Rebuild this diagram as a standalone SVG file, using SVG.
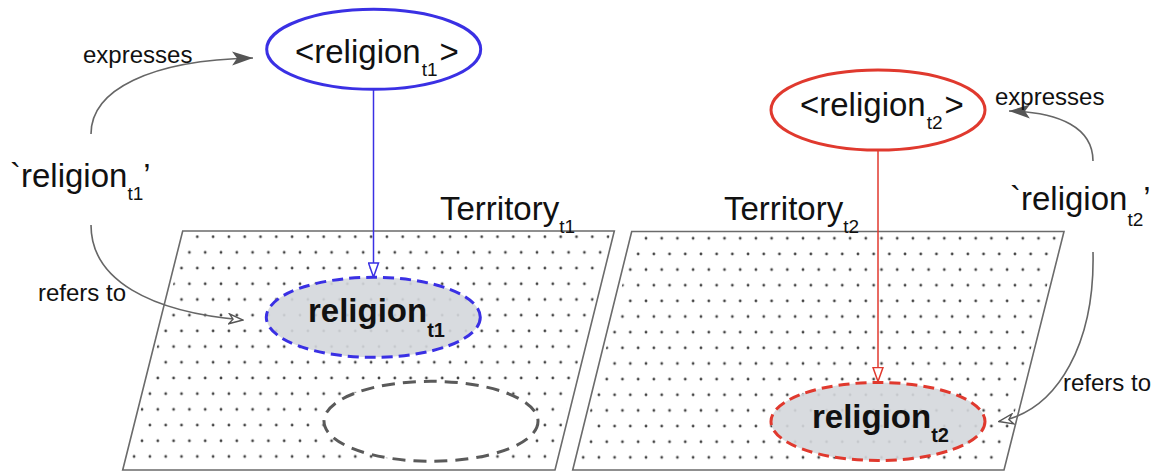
<svg xmlns="http://www.w3.org/2000/svg" width="1158" height="472" viewBox="0 0 1158 472">
<style>
.big{font-family:"Liberation Sans",Arial,sans-serif;font-size:33px;fill:#111}
.bold{font-family:"Liberation Sans",Arial,sans-serif;font-size:33px;font-weight:bold;fill:#111}
.lbl{font-family:"Liberation Sans",Arial,sans-serif;font-size:24px;fill:#111}
.sub{font-size:19px}
.bsub{font-size:20px}
.terr{stroke:#6b6b6b;stroke-width:1.6}
.conn{fill:none;stroke:#666;stroke-width:1.6}
.d{fill:#444}
</style>
<defs>
<pattern id="dots1" patternUnits="userSpaceOnUse" x="197.3" y="236.7" width="15.8" height="31.4">
<circle class="d" cx="0" cy="0" r="1.4"/><circle class="d" cx="15.8" cy="0" r="1.4"/><circle class="d" cx="0" cy="31.4" r="1.4"/><circle class="d" cx="15.8" cy="31.4" r="1.4"/>
<circle class="d" cx="7.9" cy="15.7" r="1.4"/>
</pattern>
<pattern id="dots2" patternUnits="userSpaceOnUse" x="646" y="238.3" width="15.7" height="31.3">
<circle class="d" cx="0" cy="0" r="1.4"/><circle class="d" cx="15.7" cy="0" r="1.4"/><circle class="d" cx="0" cy="31.3" r="1.4"/><circle class="d" cx="15.7" cy="31.3" r="1.4"/>
<circle class="d" cx="7.85" cy="15.65" r="1.4"/>
</pattern>
<marker id="openBlue" viewBox="0 0 16 12" refX="15" refY="6" markerWidth="16" markerHeight="12" markerUnits="userSpaceOnUse" orient="auto">
<path d="M1,1 L15,6 L1,11 Z" fill="#fff" stroke="#3a30e4" stroke-width="1.5"/>
</marker>
<marker id="openRed" viewBox="0 0 16 12" refX="15" refY="6" markerWidth="16" markerHeight="12" markerUnits="userSpaceOnUse" orient="auto">
<path d="M1,1 L15,6 L1,11 Z" fill="#fff" stroke="#e0392e" stroke-width="1.5"/>
</marker>
<marker id="filled" viewBox="0 0 22 16" refX="21" refY="8" markerWidth="22" markerHeight="16" markerUnits="userSpaceOnUse" orient="auto">
<path d="M0,1 L21,8 L0,15 L5,8 Z" fill="#555"/>
</marker>
<marker id="vee" viewBox="0 0 16 12" refX="15" refY="6" markerWidth="16" markerHeight="12" markerUnits="userSpaceOnUse" orient="auto">
<path d="M1,1 L15,6 L1,11 L5,6 Z" fill="#fff" stroke="#555" stroke-width="1.4" stroke-linejoin="miter"/>
</marker>
<clipPath id="clip1"><polygon points="186,235 610,235 552,466 126,466"/></clipPath>
<clipPath id="clip2"><polygon points="635,235 1060,235 1001,466 576,466"/></clipPath>
</defs>

<g id="territory-t1">
<polygon class="terr" points="182.7,231 614.3,231 555,470 122.7,470" fill="#fff"/>
<rect x="120" y="230" width="500" height="242" fill="url(#dots1)" clip-path="url(#clip1)"/>
<text class="big" x="440" y="220">Territory<tspan class="sub" dy="13">t1</tspan></text>
</g>

<g id="territory-t2">
<polygon class="terr" points="631.7,231.5 1064,231.5 1004,470 572.7,470" fill="#fff"/>
<rect x="570" y="230" width="500" height="242" fill="url(#dots2)" clip-path="url(#clip2)"/>
<text class="big" x="724" y="220">Territory<tspan class="sub" dy="13">t2</tspan></text>
</g>

<g id="empty-region">
<ellipse cx="431" cy="421.3" rx="107" ry="40" fill="#fff" stroke="#5a5a5a" stroke-width="3" stroke-dasharray="13 8"/>
</g>

<g id="connectors">
<line x1="373.5" y1="89" x2="373.5" y2="277" stroke="#3a30e4" stroke-width="1.5" marker-end="url(#openBlue)"/>
<line x1="878" y1="150" x2="878" y2="381.5" stroke="#e0392e" stroke-width="1.5" marker-end="url(#openRed)"/>
<path class="conn" d="M91,134 C91,90 150,60 253,58" marker-end="url(#filled)"/>
<path class="conn" d="M91,225 C91,280 150,312 243,320" marker-end="url(#vee)"/>
<path class="conn" d="M1093,161 C1093,128 1060,112 1009,111" marker-end="url(#filled)"/>
<path class="conn" d="M1093,252 C1095,340 1060,410 999,421.5" marker-end="url(#vee)"/>
</g>

<g id="concept-t1">
<ellipse cx="373.7" cy="49.3" rx="107" ry="40" fill="#fff" stroke="#3a30e4" stroke-width="3"/>
<text class="big" x="295" y="63">&lt;religion<tspan class="sub" dy="13" dx="1">t1</tspan><tspan dy="-13" dx="2">&gt;</tspan></text>
</g>

<g id="concept-t2">
<ellipse cx="878" cy="110" rx="107" ry="40" fill="#fff" stroke="#e0392e" stroke-width="3"/>
<text class="big" x="800" y="116">&lt;religion<tspan class="sub" dy="13" dx="1">t2</tspan><tspan dy="-13" dx="2">&gt;</tspan></text>
</g>

<g id="referent-t1">
<ellipse cx="373.3" cy="317.3" rx="107" ry="40" fill="#d4d7dc" fill-opacity="0.9" stroke="#3a30e4" stroke-width="3" stroke-dasharray="11 6"/>
<text class="bold" x="308" y="322">religion<tspan class="bsub" dy="15">t1</tspan></text>
</g>

<g id="referent-t2">
<ellipse cx="878" cy="421.5" rx="107" ry="39" fill="#d4d7dc" fill-opacity="0.9" stroke="#e0392e" stroke-width="3" stroke-dasharray="11 6"/>
<text class="bold" x="812" y="428">religion<tspan class="bsub" dy="14">t2</tspan></text>
</g>

<g id="word-t1">
<text class="big" x="10" y="187">`religion<tspan class="sub" dy="13">t1</tspan><tspan dy="-13">’</tspan></text>
</g>

<g id="word-t2">
<text class="big" x="1010" y="210">`religion<tspan class="sub" dy="16">t2</tspan><tspan dy="-16">’</tspan></text>
</g>

<g id="labels">
<text class="lbl" x="83" y="63">expresses</text>
<text class="lbl" x="38" y="301">refers to</text>
<text class="lbl" x="995" y="105">expresses</text>
<text class="lbl" x="1063" y="391">refers to</text>
</g>
</svg>
